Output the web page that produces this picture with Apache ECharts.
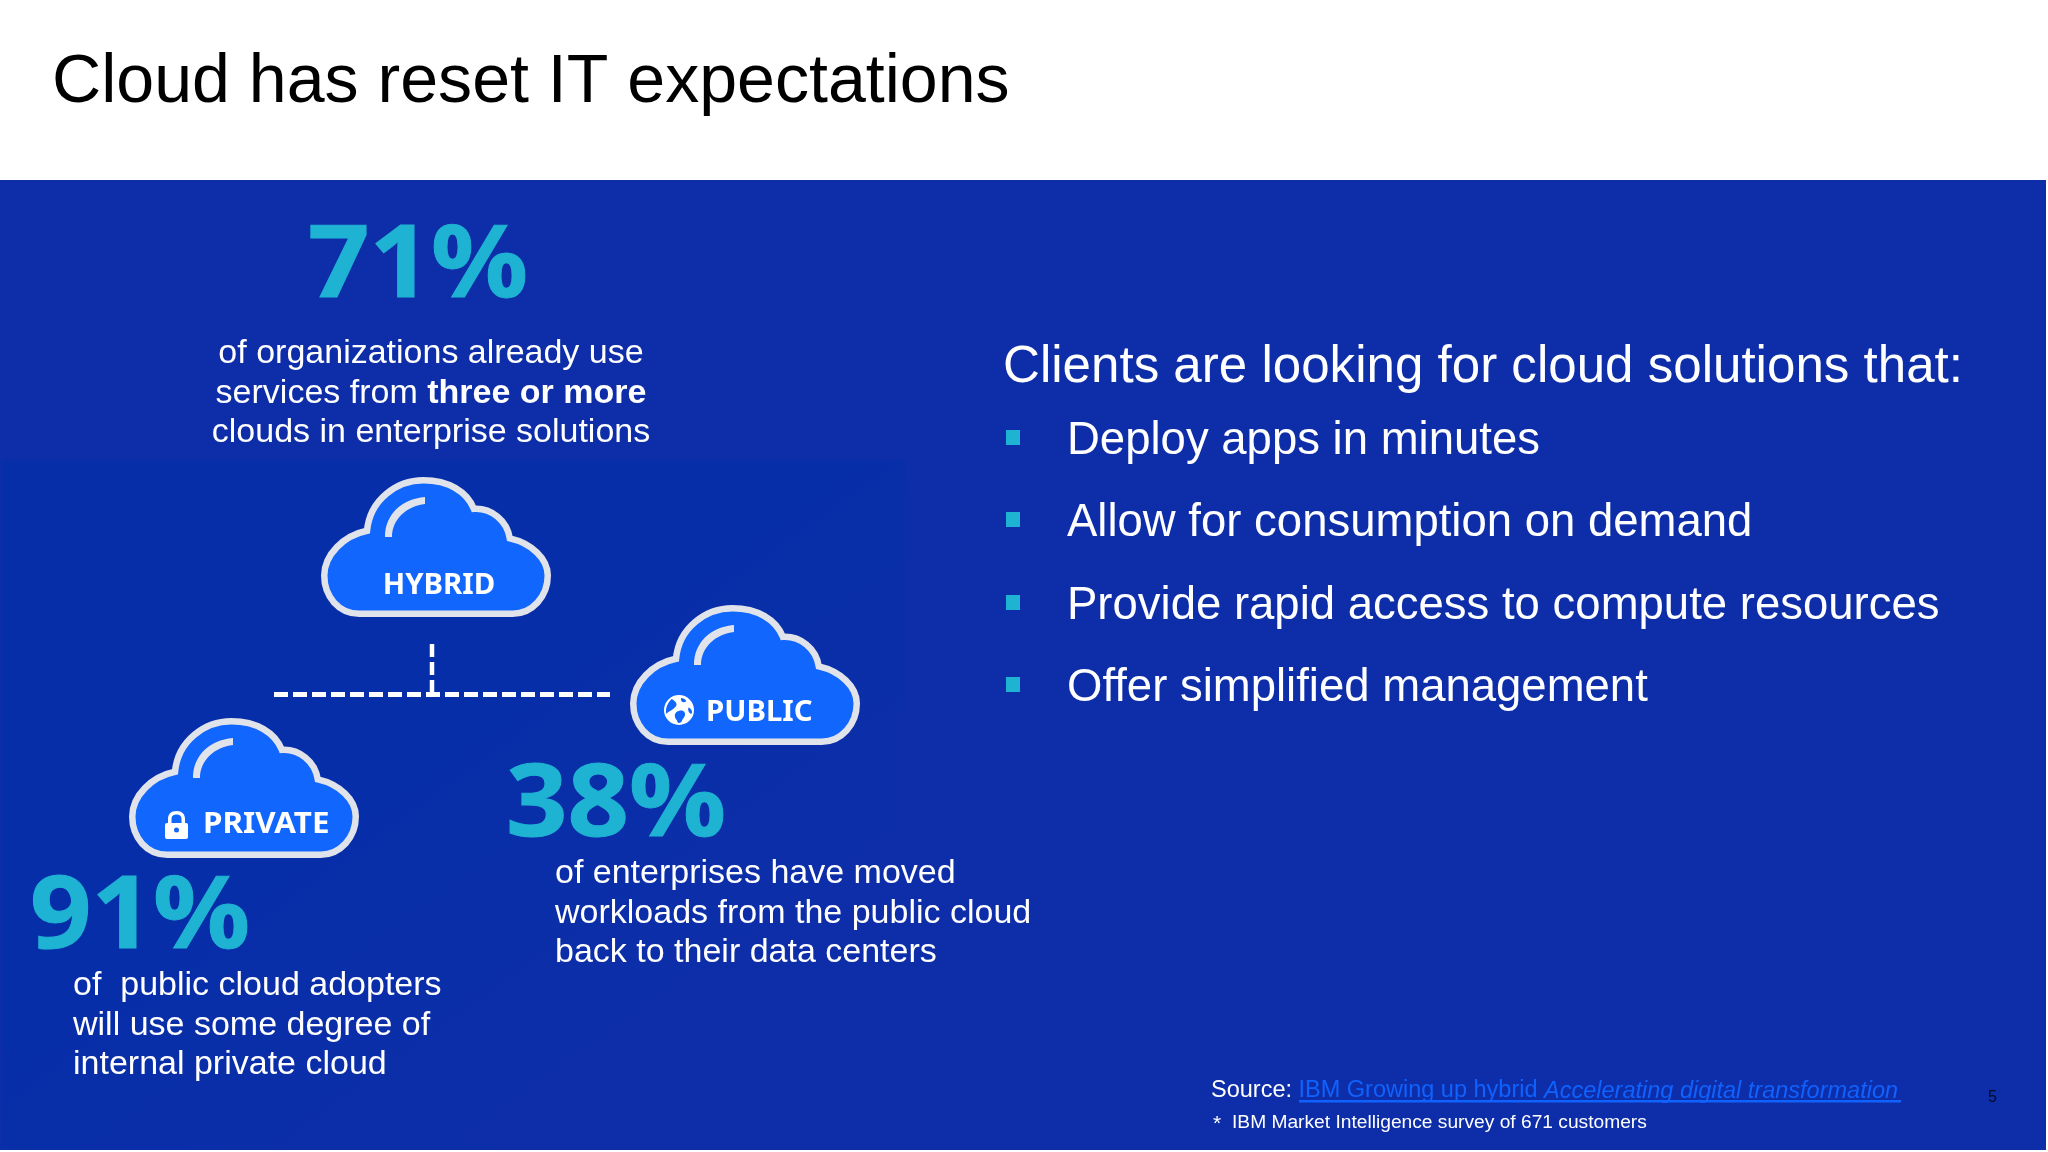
<!DOCTYPE html>
<html><head><meta charset="utf-8"><style>html,body{margin:0;padding:0;background:#fff}#c{width:2048px;height:1152px}</style>
<script src="https://cdn.jsdelivr.net/npm/echarts@6/dist/echarts.min.js"></script></head>
<body><div id="c"></div>
<script>
// ---- content ----
const titleText = 'Cloud has reset IT expectations';
const statValues = [71, 38, 91];
const statNotes = [
  ['of organizations already use', 'services from {b|three or more}', 'clouds in enterprise solutions'],
  ['of enterprises have moved', 'workloads from the public cloud', 'back to their data centers'],
  ['of  public cloud adopters', 'will use some degree of', 'internal private cloud']
];
const cloudNames = ['HYBRID', 'PUBLIC', 'PRIVATE'];
const headline = 'Clients are looking for cloud solutions that:';
const bullets = ['Deploy apps in minutes', 'Allow for consumption on demand', 'Provide rapid access to compute resources', 'Offer simplified management'];
const sourceLabel = 'Source: ';
const sourceLink = 'IBM Growing up hybrid ';
const sourceItalic = 'Accelerating digital transformation';
const surveyNote = 'IBM Market Intelligence survey of 671 customers';
const pageNumber = '5';

// ---- layout ----
const SANS = '"Liberation Sans", Arial, sans-serif';
const PLEX = '"Noto Sans", sans-serif';
const BAND = '#0e2ea9', INNER = '#062ea8', CYAN = '#1fb3d3', CLOUD = '#1166fe', RIM = '#e0e3ea', LINK = '#0f62fe';
const statPos = [{x: 418, y: 268.500, nx: 431, ny: 353.500}, {x: 616, y: 807.500, nx: 555, ny: 873.500}, {x: 140, y: 919.500, nx: 73, ny: 985.500}];
const statLabelAlign = ['center', 'left', 'left'];
const cloudPos = [[321, 477, 439, 586], [630, 605, 706, 713], [129, 718, 203, 825]];
const cloudLabelScale = [1.03, 1.03, 1.1];
const NOTE_STEP = 39.8;
const bulletY = [438, 520, 603, 685];

const cloudPath = 'M44 53C47 20 75 0 102 0C128 0 147 12 154 30C172 29 188 42 191 61C213 66 230 82 230 100C230 122 214 140 194 140L36 140C15 140 0 122 0 100C0 78 20 58 44 53Z';
const glintPath = 'M64 60C64 38 80 22 104 20L104 27C86 29 71 42 71 60Z';
const lockArc = 'M3 13L3 8C3 3 6 0 11.500 0C17 0 20 3 20 8L20 13L16.500 13L16.500 8C16.500 5 15 3.500 11.500 3.500C8 3.500 6.500 5 6.500 8L6.500 13Z';
const globeLand = 'M-7 -11C-11 -7 -13 -2 -12 3C-9 0 -5 -1 -3 -4C-1 -6 -3 -9 -7 -11ZM2 -12C1 -8 5 -7 7 -9C6 -11 4 -12 2 -12ZM-2 1C-5 3 -4 7 -2 9C-1 13 2 12 3 9C5 6 7 4 5 1C3 -1 0 0 -2 1ZM9 -3C8 0 10 3 12 3C13 1 12 -2 9 -3Z';

const text = (x, y, t, fs, color, extra = {}, styleExtra = {}) => Object.assign({
  type: 'text', x, y, silent: true,
  style: Object.assign({text: t, fontFamily: SANS, fontSize: fs, fill: color, align: 'left', verticalAlign: 'middle'}, styleExtra)
}, extra);

const els = [
  {type: 'rect', shape: {x: 0, y: 180, width: 2046, height: 970}, style: {fill: BAND}},
  {type: 'rect', shape: {x: 2, y: 460, width: 903, height: 690}, style: {fill: {
    type: 'linear', x: 0, y: 0, x2: 0.55, y2: 1,
    colorStops: [{offset: 0, color: INNER}, {offset: 0.55, color: INNER}, {offset: 1, color: BAND}]
  }}},
  text(52, 83, titleText, 68.100, '#000')
];

statValues.forEach((v, i) => {
  const p = statPos[i];
  els.push(text(p.x, p.y, v + '%', 101, CYAN, {scaleX: 1.065}, {fontFamily: PLEX, fontWeight: 'bold', align: 'center', stroke: CYAN, lineWidth: 1}));
  statNotes[i].forEach((line, k) => {
    els.push(text(p.nx, p.ny + k * NOTE_STEP, line, 34, '#fff', {}, {
      align: statLabelAlign[i],
      rich: {b: {fontFamily: SANS, fontSize: 34, fontWeight: 'bold', fill: '#fff'}}
    }));
  });
});

// connector
els.push({type: 'line', shape: {x1: 274, y1: 694.500, x2: 610, y2: 694.500}, style: {stroke: '#fff', lineWidth: 5, lineDash: [14, 5]}});
els.push({type: 'line', shape: {x1: 432, y1: 644, x2: 432, y2: 695}, style: {stroke: '#fff', lineWidth: 4.500, lineDash: [13, 5]}});

// right panel
els.push(text(1003, 367.500, headline, 51.100, '#fff'));
bullets.forEach((b, i) => {
  els.push({type: 'rect', shape: {x: 1006, y: bulletY[i] - 8, width: 14, height: 15}, style: {fill: CYAN}});
  els.push(text(1067, bulletY[i] + 3.500, b, 45.500, '#fff'));
});

// footer
els.push(text(1211, 1091, sourceLabel, 23.500, '#fff'));
els.push({type: 'text', x: 1298.500, y: 1091, silent: true, style: {
  text: sourceLink + '{i|' + sourceItalic + '}', fontFamily: SANS, fontSize: 23.500, fill: LINK, verticalAlign: 'middle',
  rich: {i: {fontFamily: SANS, fontStyle: 'italic', fontSize: 23.500, fill: LINK}}
}});
els.push({type: 'rect', shape: {x: 1299, y: 1100, width: 602, height: 2.500}, style: {fill: LINK}});
els.push(text(1213, 1124, '*', 21, '#fff'));
els.push(text(1232, 1123, surveyNote, 19.200, '#fff'));
els.push(text(1988, 1098, pageNumber, 16, '#050a20'));

function renderCloud(params, api) {
  const i = params.dataIndex, [x, y, lx, ly] = cloudPos[i];
  const children = [
    {type: 'path', x, y, shape: {pathData: cloudPath, x: 3.250, y: 3.250, width: 223.500, height: 133.500, layout: 'cover'}, style: {fill: CLOUD, stroke: RIM, lineWidth: 6.500}},
    {type: 'path', x, y, shape: {pathData: glintPath, x: 64, y: 20, width: 40, height: 40, layout: 'cover'}, style: {fill: RIM}},
    {type: 'text', x: lx, y: ly, scaleX: cloudLabelScale[i], style: {text: cloudNames[i], fontFamily: PLEX, fontWeight: 'bold', fontSize: 28.500, fill: '#fff', align: i === 0 ? 'center' : 'left', verticalAlign: 'middle'}}
  ];
  if (cloudNames[i] === 'PUBLIC') {
    children.push({type: 'circle', shape: {cx: 679, cy: 710, r: 15}, style: {fill: '#fff'}});
    children.push({type: 'path', x: 679, y: 710, shape: {pathData: globeLand, x: -13, y: -12, width: 26, height: 25, layout: 'cover'}, style: {fill: CLOUD}});
  }
  if (cloudNames[i] === 'PRIVATE') {
    children.push({type: 'rect', shape: {x: 165, y: 823, width: 23, height: 16, r: 2}, style: {fill: '#fff'}});
    children.push({type: 'path', x: 165, y: 811, shape: {pathData: lockArc, x: 3, y: 0, width: 17, height: 13, layout: 'cover'}, style: {fill: '#fff'}});
    children.push({type: 'circle', shape: {cx: 176.500, cy: 830, r: 2.500}, style: {fill: CLOUD}});
  }
  return {type: 'group', children};
}

const chart = echarts.init(document.getElementById('c'), null, {renderer: 'canvas', width: 2048, height: 1152});
chart.setOption({
  animation: false,
  backgroundColor: '#fff',
  graphic: {elements: els},
  series: [{type: 'custom', coordinateSystem: 'none', silent: true, z: 5, data: cloudNames, renderItem: renderCloud}]
});
</script></body></html>
